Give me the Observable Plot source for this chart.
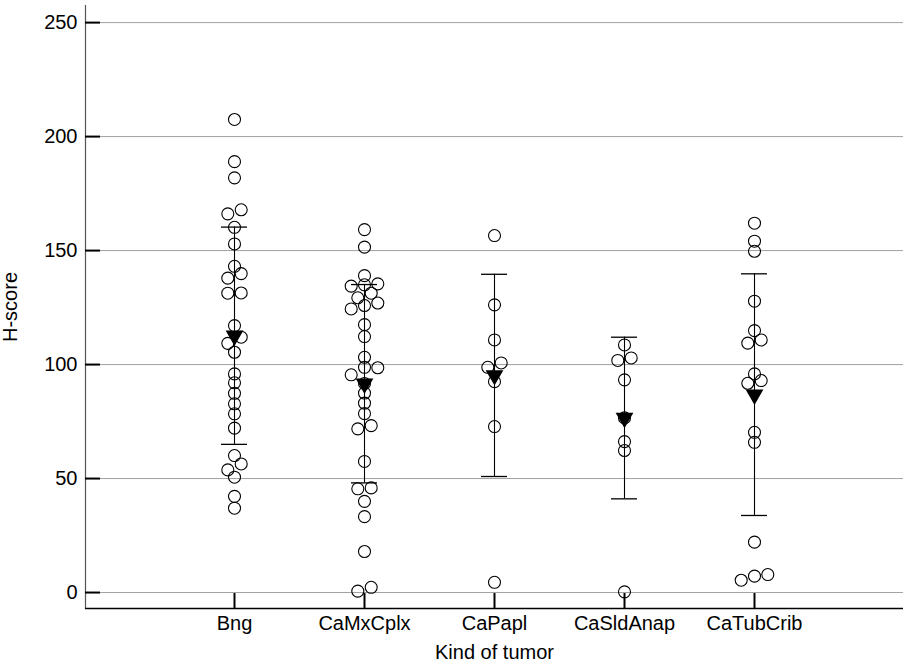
<!DOCTYPE html>
<html>
<head>
<meta charset="utf-8">
<script src="https://cdn.jsdelivr.net/npm/d3@7"></script>
<script src="https://cdn.jsdelivr.net/npm/@observablehq/plot@0.6"></script>
<style>
  body { margin: 0; background: #fff; }
  #chart svg { display: block; }
</style>
</head>
<body>
<div id="chart"></div>
<script>
// Categories (kinds of tumor)
const categories = ["Bng", "CaMxCplx", "CaPapl", "CaSldAnap", "CaTubCrib"];

// Individual H-scores per category, with the dot-plot lane (column) each circle sits in
const bngValues = [207.5, 189.0, 181.9, 167.9, 166.1, 160.2, 152.9, 143.1, 139.9, 137.9, 131.4, 131.3, 117.1, 112.0, 109.3, 105.4, 95.9, 92.0, 87.4, 82.8, 78.4, 72.1, 60.1, 56.4, 53.8, 50.6, 42.2, 37.0];
const bngLanes  = [0, 0, 0, 1, -1, 0, 0, 0, 1, -1, 1, -1, 0, 1, -1, 0, 0, 0, 0, 0, 0, 0, 0, 1, -1, 0, 0, 0];

const mxValues = [159.2, 151.5, 139.0, 135.4, 135.0, 134.4, 131.3, 129.3, 127.0, 125.9, 124.4, 117.5, 112.3, 103.2, 98.8, 98.6, 95.5, 91.7, 87.5, 83.1, 78.5, 73.2, 71.8, 57.5, 45.9, 45.5, 40.0, 33.3, 18.0, 2.3, 0.6];
const mxLanes  = [0, 0, 0, 2, 0, -2, 1, -1, 2, 0, -2, 0, 0, 0, 0, 2, -2, 0, 0, 0, 0, 1, -1, 0, 1, -1, 0, 0, 0, 1, -1];

const paplValues = [156.6, 126.2, 110.8, 100.7, 98.8, 92.5, 72.8, 4.5];
const paplLanes  = [0, 0, 0, 1, -1, 0, 0, 0];

const sldValues = [108.6, 102.9, 101.8, 93.3, 76.6, 66.2, 62.3, 0.3];
const sldLanes  = [0, 1, -1, 0, 0, 0, 0, 0];

const tubValues = [162.0, 154.1, 149.7, 127.8, 114.9, 110.8, 109.4, 95.9, 93.0, 91.8, 70.3, 65.9, 22.1, 7.9, 7.2, 5.4];
const tubLanes  = [0, 0, 0, 0, 0, 1, -1, 0, 1, -1, 0, 0, 0, 2, 0, -2];

// Summary: mean and mean ± SD bar ends
const means  = [112.7, 91.6, 95.3, 76.6, 86.8];
const sdLow  = [65.0, 48.1, 50.9, 41.1, 33.8];
const sdHigh = [160.3, 135.1, 139.6, 112.0, 139.8];

const yTicks = [0, 50, 100, 150, 200, 250];

// Build tables
const groups = [[bngValues, bngLanes], [mxValues, mxLanes], [paplValues, paplLanes], [sldValues, sldLanes], [tubValues, tubLanes]];
const points = [];
groups.forEach(([vals, lanes], i) => vals.forEach((v, j) => points.push({kind: categories[i], hscore: v, lane: lanes[j]})));
const summary = categories.map((c, i) => ({kind: c, mean: means[i], lo: sdLow[i], hi: sdHigh[i]}));

const laneShift = {"-2": -13.3, "-1": -6.7, "0": 0, "1": 6.7, "2": 13.3};
const dotMarks = [-2, -1, 0, 1, 2].map(l =>
  Plot.dot(points.filter(d => d.lane === l), {
    x: "kind", y: "hscore", r: 6, fill: "none", stroke: "#000", strokeWidth: 1.1, dx: laneShift[l]
  })
);

const chart = Plot.plot({
  width: 909,
  height: 665,
  marginLeft: 85,
  marginRight: 6,
  marginTop: 5,
  marginBottom: 57,
  style: {fontFamily: "'Liberation Sans', Arial, sans-serif", fontSize: "20px", color: "#000", background: "#fff", overflow: "visible"},
  x: {type: "band", domain: categories, paddingInner: 0.797, paddingOuter: 1.023},
  y: {domain: [-7, 257.5]},
  marks: [
    Plot.ruleY(yTicks, {stroke: "#a0a0a0", strokeWidth: 1}),
    Plot.frame({anchor: "left", stroke: "#555", strokeWidth: 1.2}),
    Plot.ruleY([-7], {stroke: "#000", strokeWidth: 1.6}),
    Plot.ruleX(summary, {x: "kind", y1: "lo", y2: "hi", stroke: "#000", strokeWidth: 1.1}),
    Plot.tickY(summary, {x: "kind", y: "lo", stroke: "#000", strokeWidth: 1.3}),
    Plot.tickY(summary, {x: "kind", y: "hi", stroke: "#000", strokeWidth: 1.3}),
    ...dotMarks,
    Plot.dot(summary, {x: "kind", y: "mean", symbol: "triangle", r: 6.6, fill: "#000", stroke: "none", rotate: 180}),
    Plot.axisY({ticks: yTicks, tickSize: -15, tickPadding: 23, strokeWidth: 2,
      label: "H-score", labelAnchor: "center", labelOffset: 83, labelArrow: "none", fontSize: 20}),
    Plot.axisX({tickSize: -15, tickPadding: 22, strokeWidth: 2,
      label: "Kind of tumor", labelAnchor: "center", labelOffset: 50, labelArrow: "none", fontSize: 20})
  ]
});
document.getElementById("chart").appendChild(chart);
</script>
</body>
</html>
